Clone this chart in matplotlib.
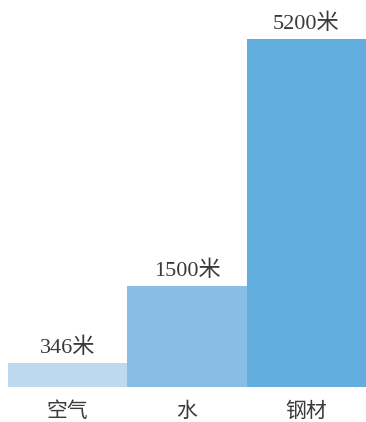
import matplotlib
matplotlib.use("Agg")
import matplotlib.pyplot as plt

# data
categories = ["空气", "水", "钢材"]
speeds = [346, 1500, 5200]
value_labels = ["346米", "1500米", "5200米"]
colors = ["#bdd9ef", "#88bde6", "#62aedf"]

plt.rcParams['font.family'] = ['Liberation Serif', 'Noto Sans CJK SC', 'DejaVu Sans']

fig = plt.figure(figsize=(3.66, 4.22), dpi=100)
ax = fig.add_axes([8 / 366, 1 - 386.5 / 422, 358 / 366, (386.5 - 39) / 422])

x = range(len(categories))
bars = ax.bar(x, speeds, width=1.0, color=colors)
ax.set_xlim(-0.5, 2.5)
ax.set_ylim(0, 5200)

for b, lab in zip(bars, value_labels):
    ax.annotate(lab, (b.get_x() + b.get_width() / 2, b.get_height()),
                xytext=(0, 7.5), textcoords="offset points",
                ha="center", va="baseline", fontsize=16, color="#3a3a3a")

for i, c in zip(x, categories):
    ax.annotate(c, (i, 0), xytext=(0, -17.5), textcoords="offset points",
                ha="center", va="center", fontsize=15, color="#3a3a3a",
                family=['Noto Sans CJK SC'])

ax.axis("off")
fig.savefig("out.png", dpi=100)
